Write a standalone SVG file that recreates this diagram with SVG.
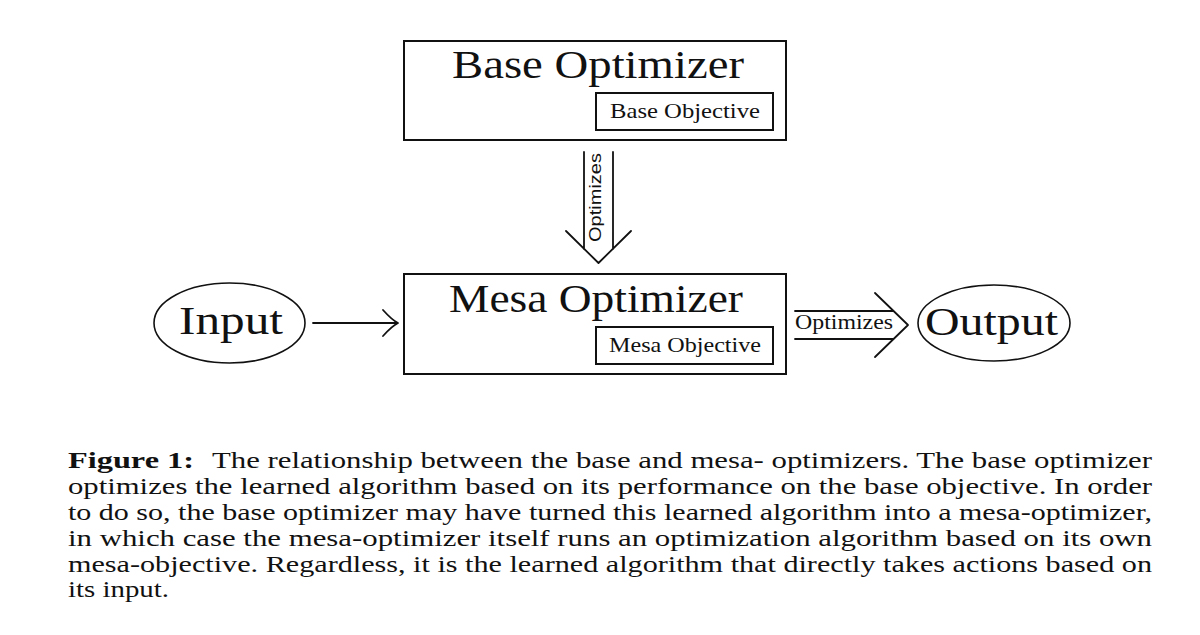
<svg xmlns="http://www.w3.org/2000/svg" width="1200" height="635" viewBox="0 0 1200 635">
<style>
.box{fill:none;stroke:#111;stroke-width:2}
.ell{fill:none;stroke:#111;stroke-width:1.6}
.ln{fill:none;stroke:#111;stroke-width:1.8;stroke-linecap:round;stroke-linejoin:round}
.big{font-family:"Liberation Serif","Times New Roman",serif;font-size:39px;fill:#111}
.small{font-family:"Liberation Serif","Times New Roman",serif;font-size:21px;fill:#111}
.sans{font-family:"Liberation Sans",Arial,sans-serif;font-size:17px;fill:#111}
.cap{font-family:"Liberation Serif","Times New Roman",serif;font-size:23px;fill:#111}
.bold{font-weight:bold}
</style>
<rect width="1200" height="635" fill="#fff"/>
<g id="base-optimizer">
<rect class="box" x="404" y="41" width="382" height="99"/>
<text class="big" x="452" y="78" textLength="292" lengthAdjust="spacingAndGlyphs">Base Optimizer</text>
<g id="base-objective">
<rect class="box" x="596" y="93" width="177" height="37"/>
<text class="small" x="610" y="118" textLength="150" lengthAdjust="spacingAndGlyphs">Base Objective</text>
</g>
</g>
<g id="mesa-optimizer">
<rect class="box" x="404" y="274" width="382" height="100"/>
<text class="big" x="449" y="312" textLength="294" lengthAdjust="spacingAndGlyphs">Mesa Optimizer</text>
<g id="mesa-objective">
<rect class="box" x="596" y="327" width="177" height="37"/>
<text class="small" x="609" y="352" textLength="152" lengthAdjust="spacingAndGlyphs">Mesa Objective</text>
</g>
</g>
<g id="input">
<ellipse class="ell" cx="229.5" cy="323" rx="75.5" ry="40"/>
<text class="big" x="179" y="334" textLength="104" lengthAdjust="spacingAndGlyphs">Input</text>
</g>
<g id="output">
<ellipse class="ell" cx="994" cy="323" rx="76" ry="38"/>
<text class="big" x="925" y="335" textLength="133" lengthAdjust="spacingAndGlyphs">Output</text>
</g>
<g id="connectors">
<path class="ln" d="M313,323 H397"/>
<path class="ln" d="M383,310 Q392,320 398,323 Q392,326 383,336"/>
<path class="ln" d="M584,152 V249 M613,152 V249 M566,231 L598.5,263 L631,231"/>
<text class="sans" transform="translate(601,242) rotate(-90)" textLength="89" lengthAdjust="spacingAndGlyphs">Optimizes</text>
<path class="ln" d="M795,311 H893 M795,339 H893 M875,293 L908,325 L875,357"/>
<text class="small" x="795" y="329" font-size="18" textLength="98" lengthAdjust="spacingAndGlyphs">Optimizes</text>
</g>
<g id="caption">
<text class="cap bold" x="68" y="468" textLength="126" lengthAdjust="spacingAndGlyphs">Figure 1:</text>
<text class="cap" x="212" y="468" textLength="940" lengthAdjust="spacingAndGlyphs">The relationship between the base and mesa- optimizers. The base optimizer</text>
<text class="cap" x="68" y="494" textLength="1084" lengthAdjust="spacingAndGlyphs">optimizes the learned algorithm based on its performance on the base objective. In order</text>
<text class="cap" x="68" y="520" textLength="1084" lengthAdjust="spacingAndGlyphs">to do so, the base optimizer may have turned this learned algorithm into a mesa-optimizer,</text>
<text class="cap" x="68" y="546" textLength="1084" lengthAdjust="spacingAndGlyphs">in which case the mesa-optimizer itself runs an optimization algorithm based on its own</text>
<text class="cap" x="68" y="572" textLength="1084" lengthAdjust="spacingAndGlyphs">mesa-objective. Regardless, it is the learned algorithm that directly takes actions based on</text>
<text class="cap" x="68" y="597" textLength="101" lengthAdjust="spacingAndGlyphs">its input.</text>
</g>
</svg>
